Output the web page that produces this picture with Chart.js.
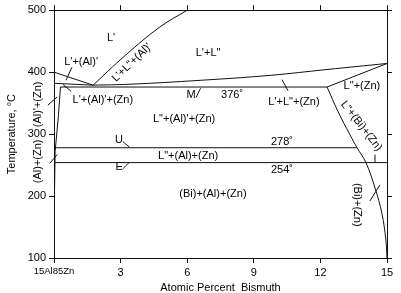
<!DOCTYPE html>
<html>
<head>
<meta charset="utf-8">
<script src="https://cdn.jsdelivr.net/npm/chart.js@4.4.1/dist/chart.umd.min.js"></script>
<style>
  body { margin: 0; background: #fff; }
  #wrap { width: 401px; height: 293px; }
</style>
</head>
<body>
<div id="wrap"><canvas id="phase" width="401" height="293"></canvas></div>
<script>
// axis ticks
const xTickVals = [0, 3, 6, 9, 12, 15];
const xTickText = ['15Al85Zn', '3', '6', '9', '12', '15'];
const yTickVals = [100, 200, 300, 400, 500];

// phase boundaries (at.% Bi, temperature in C)
const liqAlX = [0, 1.76];
const liqAlT = [400, 379];
const gapLeftX = [1.76, 3.2, 4.77, 6.0];
const gapLeftT = [379, 426.7, 472.9, 500];
const gapBottomX = [1.76, 3.42, 6.58, 9.73, 12.3, 15];
const gapBottomT = [379, 380.5, 386.8, 394.8, 404.3, 414];
const liqZnX = [12.3, 15];
const liqZnT = [376, 414];
const sliverX = [0, 1.76];
const sliverT = [382, 379];
const monotecticX = [0.29, 12.3];
const monotecticT = [376, 376];
const solvusX = [0.29, 0.2, 0.05, 0.02, 0];
const solvusT = [376, 330, 272, 200, 100];
const uLineX = [0.05, 13.65];
const uLineT = [278, 278];
const eLineX = [0.05, 15];
const eLineT = [254, 254];
const biCurveX = [12.3, 12.8, 13.33, 13.65, 14.05, 14.46, 14.77, 14.95, 15];
const biCurveT = [376, 336, 299, 278, 254, 213, 172, 129, 100];

// region labels: text, x, T, rotation (deg)
const regionLabels = [
  ["L'", 2.57, 455, 0],
  ["L'+(Al)'", 1.22, 417, 0],
  ["L'+L\"+(Al)'", 3.51, 415.5, -44],
  ["L'+L\"", 6.94, 431.5, 0],
  ['M', 6.17, 363, 0],
  ['376\u02da', 8.02, 363, 0],
  ["L'+(Al)'+(Zn)", 2.2, 355, 0],
  ["L\"+(Al)'+(Zn)", 5.86, 325, 0],
  ["L'+L\"+(Zn)", 10.81, 352, 0],
  ['L"+(Zn)', 13.87, 377, 0],
  ['L"+(Bi)+(Zn)', 13.85, 313, 52],
  ['U', 2.93, 290, 0],
  ['L"+(Al)+(Zn)', 6.04, 264, 0],
  ['278\u02da', 10.27, 288, 0],
  ['E', 2.93, 247, 0],
  ['254\u02da', 10.27, 242, 0],
  ['(Bi)+(Al)+(Zn)', 7.16, 203.6, 0],
  ['(Bi)+(Zn)', 13.65, 186, 90],
  ["(Al)'+(Zn)", -0.72, 348, -90],
  ['(Al)+(Zn)', -0.72, 256, -90]
];

// leader lines: x1, T1, x2, T2
const leaders = [
  [0.81, 408, 0.54, 387],
  [0.41, 380, 0.77, 369],
  [-0.27, 347, 0.14, 360],
  [-0.18, 253, 0.14, 267],
  [6.4, 359, 6.6, 374],
  [3.1, 288, 3.4, 279],
  [3.1, 244, 3.38, 254],
  [10.54, 370, 10.27, 388],
  [14.46, 267, 14.46, 254],
  [14.23, 192, 14.68, 218]
];

const FONT = 'Liberation Sans, Arial, Helvetica, sans-serif';
const INK = '#111';

function pts(xs, ts) {
    return xs.map((x, i) => ({ x: x, y: ts[i] }));
}

function boundary(xs, ts, curved) {
    return {
        data: pts(xs, ts),
        borderColor: INK,
        borderWidth: 1,
        pointRadius: 0,
        fill: false,
        tension: curved ? 0.4 : 0
    };
}

const annotate = {
    id: 'annotate',
    afterDatasetsDraw(chart) {
        const ctx = chart.ctx;
        const xs = chart.scales.x;
        const ys = chart.scales.y;
        ctx.save();
        ctx.strokeStyle = INK;
        ctx.lineWidth = 1;
        leaders.forEach(l => {
            ctx.beginPath();
            ctx.moveTo(xs.getPixelForValue(l[0]), ys.getPixelForValue(l[1]));
            ctx.lineTo(xs.getPixelForValue(l[2]), ys.getPixelForValue(l[3]));
            ctx.stroke();
        });
        ctx.fillStyle = '#000';
        ctx.font = '11px ' + FONT;
        ctx.textAlign = 'center';
        ctx.textBaseline = 'middle';
        regionLabels.forEach(lb => {
            ctx.save();
            ctx.translate(xs.getPixelForValue(lb[1]), ys.getPixelForValue(lb[2]));
            ctx.rotate(lb[3] * Math.PI / 180);
            ctx.fillText(lb[0], 0, 0);
            ctx.restore();
        });
        ctx.restore();
    }
};

function axisCommon(extra) {
    return Object.assign({
        type: 'linear',
        grid: { drawOnChartArea: false, tickLength: 5, color: INK, tickColor: INK },
        border: { display: true, color: INK, width: 1 }
    }, extra);
}

new Chart(document.getElementById('phase').getContext('2d'), {
    type: 'line',
    data: {
        datasets: [
            boundary(liqAlX, liqAlT, false),
            boundary(gapLeftX, gapLeftT, true),
            boundary(gapBottomX, gapBottomT, true),
            boundary(liqZnX, liqZnT, false),
            boundary(sliverX, sliverT, false),
            boundary(monotecticX, monotecticT, false),
            boundary(solvusX, solvusT, false),
            boundary(uLineX, uLineT, false),
            boundary(eLineX, eLineT, false),
            boundary(biCurveX, biCurveT, true)
        ]
    },
    options: {
        responsive: false,
        animation: false,
        parsing: true,
        layout: { padding: 0 },
        plugins: { legend: { display: false }, tooltip: { enabled: false } },
        scales: {
            x: axisCommon({
                position: 'bottom', min: 0, max: 15,
                afterBuildTicks: s => { s.ticks = xTickVals.map(v => ({ value: v })); },
                afterFit: s => { s.height = 35; },
                ticks: {
                    autoSkip: false, maxRotation: 0, padding: 3, color: '#000',
                    font: c => ({ family: FONT, size: c.index === 0 ? 9.5 : 11 }),
                    callback: v => xTickText[xTickVals.indexOf(v)]
                },
                title: {
                    display: true, text: 'Atomic Percent  Bismuth', color: '#000',
                    font: { family: FONT, size: 11 }, padding: { top: 0, bottom: -2 }
                }
            }),
            x2: axisCommon({
                position: 'top', min: 0, max: 15,
                afterBuildTicks: s => { s.ticks = xTickVals.map(v => ({ value: v })); },
                afterFit: s => { s.height = 7; },
                ticks: { autoSkip: false, callback: () => '' }
            }),
            y: axisCommon({
                position: 'left', min: 100, max: 500,
                afterBuildTicks: s => { s.ticks = yTickVals.map(v => ({ value: v })); },
                afterFit: s => { s.width = 54; },
                ticks: { autoSkip: false, padding: 3, color: '#000', font: { family: FONT, size: 11 } },
                title: {
                    display: true, text: 'Temperature, \u00b0C', color: '#000',
                    font: { family: FONT, size: 11 }, padding: { top: 5, bottom: 0 }
                }
            }),
            y2: axisCommon({
                position: 'right', min: 100, max: 500,
                afterBuildTicks: s => { s.ticks = yTickVals.map(v => ({ value: v })); },
                afterFit: s => { s.width = 14; },
                ticks: { autoSkip: false, callback: () => '' }
            })
        }
    },
    plugins: [annotate]
});
</script>
</body>
</html>
